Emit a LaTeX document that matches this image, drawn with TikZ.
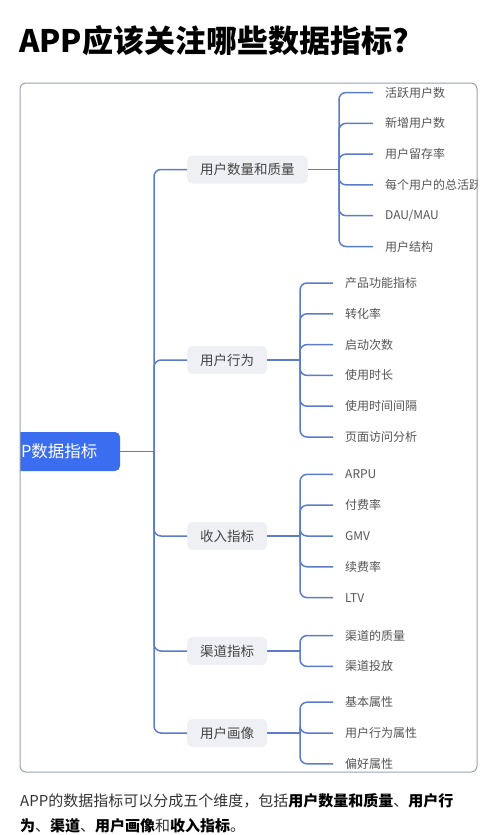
\documentclass[tikz,border=0pt]{standalone}
\usepackage{fontspec}
\setmainfont{Noto Sans CJK SC}
\definecolor{linec}{HTML}{5B7CC8}
\definecolor{rootc}{HTML}{3A6DF0}
\definecolor{boxc}{HTML}{EEF0F3}
\definecolor{framec}{HTML}{9AA2AD}
\definecolor{leafc}{HTML}{555555}
\definecolor{lvlc}{HTML}{444444}
\definecolor{bodyc}{HTML}{333333}
\begin{document}
\begin{tikzpicture}[x=1pt,y=-1pt,
  conn/.style={draw=linec, line width=1.5pt, rounded corners=7pt},
  leaf/.style={anchor=west, inner xsep=12pt, inner ysep=0pt, font=\fontsize{12}{14}\selectfont, text=leafc},
  lvl/.style={anchor=west, fill=boxc, rounded corners=5pt, minimum height=28pt, inner xsep=13pt, inner ysep=0pt, font=\fontsize{13.5}{15}\selectfont, text=lvlc},
  rootbox/.style={fill=rootc, rounded corners=5pt, minimum width=148pt, minimum height=39pt, inner sep=0pt, text=white, font=\fontsize{16.5}{18}\selectfont},
  bodytext/.style={anchor=base west, inner sep=0pt, font=\fontsize{15}{17}\selectfont, text=bodyc}]
\useasboundingbox (0,0) rectangle (500,835);
\node[anchor=base west, inner sep=0pt, font=\fontsize{31}{34}\selectfont\bfseries, text=black] (title) at (19,52) {APP应该关注哪些数据指标?};
\begin{scope}
\clip[rounded corners=6pt] (20,83) rectangle (477,772);
% root
\node[rootbox] (root) at (46,451.5) {\hspace*{6pt}APP数据指标};
\coordinate (j0) at (154,451.5);
% level 1
\node[lvl] (g1) at (187,169.5) {用户数量和质量};
\node[lvl] (g2) at (187,360) {用户行为};
\node[lvl] (g3) at (187,536) {收入指标};
\node[lvl] (g4) at (187,651) {渠道指标};
\node[lvl] (g5) at (187,733) {用户画像};
\draw[conn] (root.east) -- (j0);
\foreach \g in {g1,g2,g3,g4,g5} \draw[conn] (j0) |- (\g.west);
% group 1
\coordinate (j1) at (339,169.5);
\node[leaf] (a1) at (373,92.5) {活跃用户数};
\node[leaf] (a2) at (373,123.3) {新增用户数};
\node[leaf] (a3) at (373,154.1) {用户留存率};
\node[leaf] (a4) at (373,184.9) {每个用户的总活跃天数};
\node[leaf] (a5) at (373,215.7) {DAU/MAU};
\node[leaf] (a6) at (373,246.5) {用户结构};
\draw[conn] (g1.east) -- (j1);
\foreach \n in {a1,a2,a3,a4,a5,a6} \draw[conn] (j1) |- (\n.west);
% group 2
\coordinate (j2) at (300,360);
\node[leaf] (b1) at (333,283) {产品功能指标};
\node[leaf] (b2) at (333,313.8) {转化率};
\node[leaf] (b3) at (333,344.6) {启动次数};
\node[leaf] (b4) at (333,375.4) {使用时长};
\node[leaf] (b5) at (333,406.2) {使用时间间隔};
\node[leaf] (b6) at (333,437) {页面访问分析};
\draw[conn] (g2.east) -- (j2);
\foreach \n in {b1,b2,b3,b4,b5,b6} \draw[conn] (j2) |- (\n.west);
% group 3
\coordinate (j3) at (300,536);
\node[leaf] (c1) at (333,474.4) {ARPU};
\node[leaf] (c2) at (333,505.2) {付费率};
\node[leaf] (c3) at (333,536) {GMV};
\node[leaf] (c4) at (333,566.8) {续费率};
\node[leaf] (c5) at (333,597.6) {LTV};
\draw[conn] (g3.east) -- (j3);
\foreach \n in {c1,c2,c3,c4,c5} \draw[conn] (j3) |- (\n.west);
% group 4
\coordinate (j4) at (300,651);
\node[leaf] (d1) at (333,635.6) {渠道的质量};
\node[leaf] (d2) at (333,666.4) {渠道投放};
\draw[conn] (g4.east) -- (j4);
\foreach \n in {d1,d2} \draw[conn] (j4) |- (\n.west);
% group 5
\coordinate (j5) at (300,733);
\node[leaf] (e1) at (333,702.2) {基本属性};
\node[leaf] (e2) at (333,733) {用户行为属性};
\node[leaf] (e3) at (333,763.8) {偏好属性};
\draw[conn] (g5.east) -- (j5);
\foreach \n in {e1,e2,e3} \draw[conn] (j5) |- (\n.west);
\end{scope}
\draw[framec, line width=1pt, rounded corners=6pt] (20,83) rectangle (477,772);
% body text
\node[bodytext] (t1) at (20,806) {APP的数据指标可以分成五个维度，包括{\bfseries\color{black}用户数量和质量}、{\bfseries\color{black}用户行}};
\node[bodytext] (t2) at (20,831) {{\bfseries\color{black}为}、{\bfseries\color{black}渠道}、{\bfseries\color{black}用户画像}和{\bfseries\color{black}收入指标}。};
\end{tikzpicture}
\end{document}
